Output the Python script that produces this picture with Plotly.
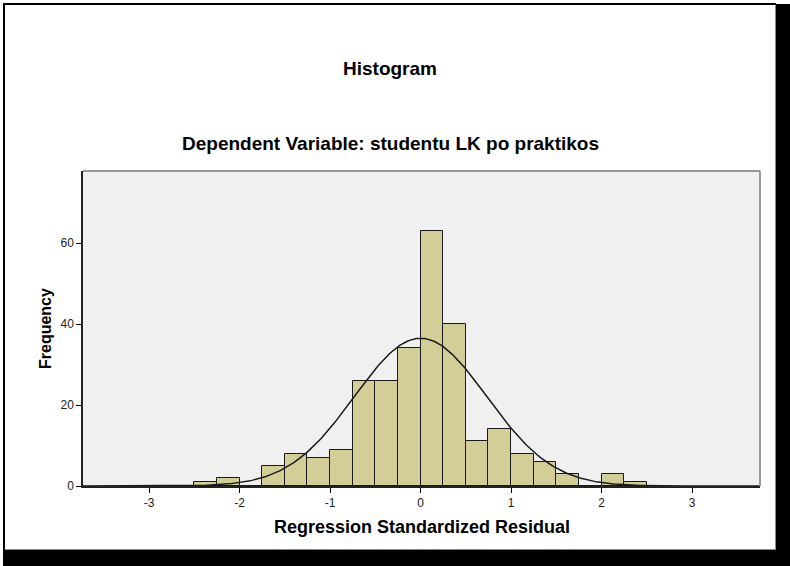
import numpy as np
import plotly.graph_objects as go

# ─────────────────────────────────────────────────────────────
# DATA
# ─────────────────────────────────────────────────────────────
bin_left = [-2.5, -2.25, -2.0, -1.75, -1.5, -1.25, -1.0, -0.75, -0.5, -0.25,
            0.0, 0.25, 0.5, 0.75, 1.0, 1.25, 1.5, 1.75, 2.0, 2.25]
counts = [1, 2, 0, 5, 8, 7, 9, 26, 26, 34,
          63, 40, 11, 14, 8, 6, 3, 0, 3, 1]
bin_width = 0.25

# normal curve parameters
curve_mean = 0.0
curve_sd = 0.73
n_total = sum(counts)

x_ticks = [-3, -2, -1, 0, 1, 2, 3]
y_ticks = [0, 20, 40, 60]

title = "Histogram"
subtitle = "Dependent Variable: studentu LK po praktikos"
x_title = "Regression Standardized Residual"
y_title = "Frequency"

# ─────────────────────────────────────────────────────────────
# FIGURE GEOMETRY
# ─────────────────────────────────────────────────────────────
W, H = 790, 566
ML, MR, MT, MB = 83, 30, 171, 80
PW, PH = W - ML - MR, H - MT - MB


def px(x):
    return (x - ML) / PW


def py(y):
    return 1 - (y - MT) / PH


FONT = "Liberation Sans, Arial, sans-serif"
BAR_FILL = "#D3CE97"

centers = [b + bin_width / 2 for b in bin_left]

xs = np.linspace(-3.74, 3.74, 400)
ys = n_total * bin_width * np.exp(-0.5 * ((xs - curve_mean) / curve_sd) ** 2) / (curve_sd * np.sqrt(2 * np.pi))

fig = go.Figure()

fig.add_trace(go.Bar(
    x=centers,
    y=counts,
    width=bin_width,
    marker=dict(color=BAR_FILL, line=dict(color="#1a1a1a", width=1)),
    showlegend=False,
    hoverinfo="x+y"
))

fig.add_trace(go.Scatter(
    x=xs,
    y=ys,
    mode="lines",
    line=dict(color="#1a1a1a", width=1.5),
    showlegend=False,
    hoverinfo="skip"
))

# window-like black border
shapes = [
    dict(type="rect", x0=px(3), x1=px(776), y0=py(3), y1=py(5)),
    dict(type="rect", x0=px(3), x1=px(5), y0=py(3), y1=py(566)),
    dict(type="rect", x0=px(776), x1=px(790), y0=py(4), y1=py(566)),
    dict(type="rect", x0=px(3), x1=px(790), y0=py(550), y1=py(566)),
]
for s in shapes:
    s.update(xref="paper", yref="paper", fillcolor="black", line=dict(width=0), layer="above")
fig.update_layout(shapes=shapes)

# gray shadow lines
fig.add_shape(type="line", xref="paper", yref="paper", x0=px(775.5), x1=px(775.5),
              y0=py(5), y1=py(550), line=dict(color="#8a8a8a", width=1))
fig.add_shape(type="line", xref="paper", yref="paper", x0=px(5), x1=px(776),
              y0=py(549.5), y1=py(549.5), line=dict(color="#8a8a8a", width=1))

# gray top/right frame of plot area
fig.add_shape(type="line", xref="paper", yref="paper", x0=0, x1=1, y0=1, y1=1,
              line=dict(color="#7a7a7a", width=1.5))
fig.add_shape(type="line", xref="paper", yref="paper", x0=1, x1=1, y0=0, y1=1,
              line=dict(color="#7a7a7a", width=1.5))

fig.add_annotation(text="<b>" + title + "</b>", x=px(390), y=py(68), xref="paper", yref="paper",
                   showarrow=False, font=dict(family=FONT, size=19, color="black"),
                   xanchor="center", yanchor="middle")
fig.add_annotation(text="<b>" + subtitle + "</b>", x=px(390), y=py(143), xref="paper", yref="paper",
                   showarrow=False, font=dict(family=FONT, size=19, color="black"),
                   xanchor="center", yanchor="middle")
fig.add_annotation(text="<b>" + x_title + "</b>", x=px(422), y=py(527), xref="paper", yref="paper",
                   showarrow=False, font=dict(family=FONT, size=18, color="black"),
                   xanchor="center", yanchor="middle")
fig.add_annotation(text="<b>" + y_title + "</b>", x=px(45), y=py(329), xref="paper", yref="paper",
                   showarrow=False, textangle=-90, font=dict(family=FONT, size=16, color="black"),
                   xanchor="center", yanchor="middle")

fig.update_layout(
    width=W,
    height=H,
    margin=dict(l=ML, r=MR, t=MT, b=MB),
    paper_bgcolor="white",
    plot_bgcolor="#F0F0F0",
    bargap=0,
    font=dict(family=FONT, size=12, color="#222222"),
    xaxis=dict(
        range=[-3.73, 3.75],
        tickmode="array",
        tickvals=x_ticks,
        ticktext=[str(v) for v in x_ticks],
        ticks="outside",
        ticklen=5,
        tickcolor="black",
        showgrid=False,
        zeroline=False,
        showline=True,
        linecolor="#222222",
        linewidth=1.5,
        tickfont=dict(family=FONT, size=12, color="#222222"),
    ),
    yaxis=dict(
        range=[0, 77.8],
        tickmode="array",
        tickvals=y_ticks,
        ticks="outside",
        ticklen=5,
        tickcolor="black",
        showgrid=False,
        zeroline=False,
        showline=True,
        linecolor="#222222",
        linewidth=1.5,
        tickfont=dict(family=FONT, size=12, color="#222222"),
    ),
)

# page body has a default 8px margin; drop it so the figure sits at 0,0
fig.write_html("out.html", config={"displayModeBar": False},
               post_script="document.body.style.margin='0px';")
